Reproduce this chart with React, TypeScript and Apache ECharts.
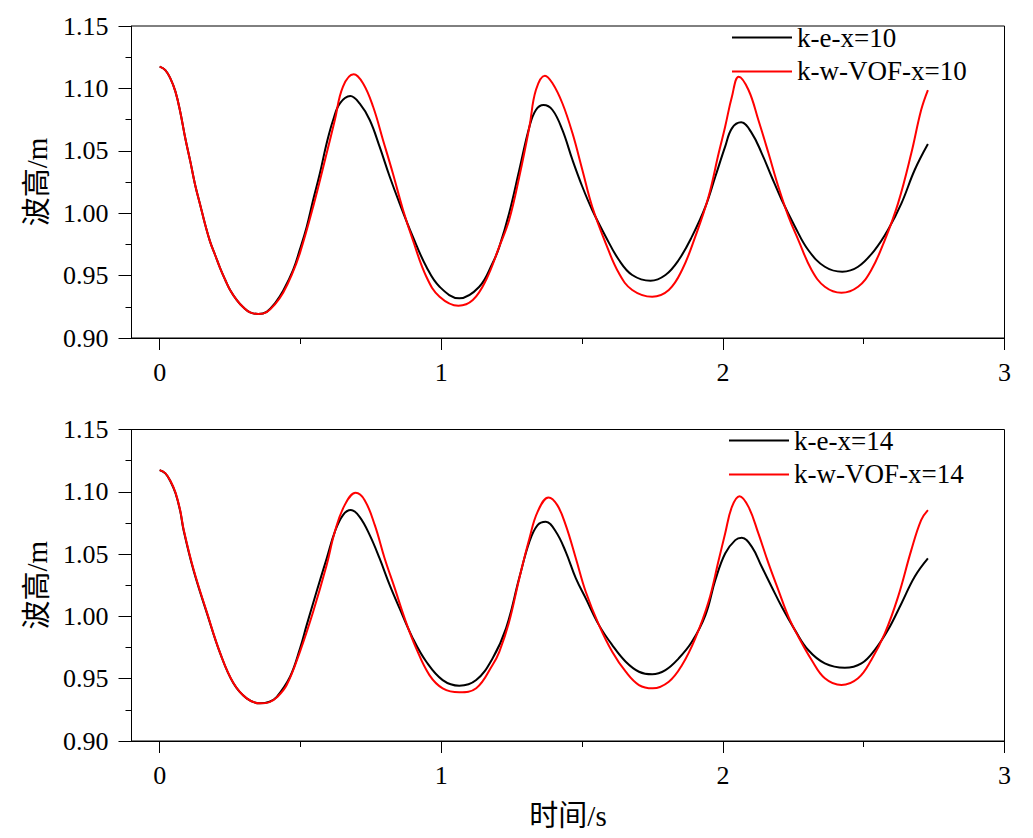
import React, { useEffect, useRef } from 'react';
import * as echarts from 'echarts';

const FONT = '"Liberation Serif", "Times New Roman", "Noto Sans CJK SC", serif';

const xMajorTicks = [0, 1, 2, 3];
const xMinorTicks = [0.5, 1.5, 2.5];
const topNames = ['k-e-x=10', 'k-w-VOF-x=10'];
const bottomNames = ['k-e-x=14', 'k-w-VOF-x=14'];
const yAxisName = '波高/m';
const xAxisName = '时间/s';

// top panel, x = 10
const topKE: number[][] = [
  [0, 1.1174], [0.02, 1.1147], [0.038, 1.108], [0.056, 1.0974], [0.073, 1.0813], [0.091, 1.06],
  [0.109, 1.0413], [0.126, 1.0226], [0.144, 1.0066], [0.162, 0.9905], [0.179, 0.9772], [0.197, 0.9665],
  [0.215, 0.9558], [0.233, 0.9465], [0.25, 0.9385], [0.274, 0.9304], [0.297, 0.9246], [0.321, 0.9206],
  [0.35, 0.9192], [0.38, 0.921], [0.41, 0.928], [0.439, 0.938], [0.474, 0.9545], [0.498, 0.971],
  [0.522, 0.989], [0.545, 1.0106], [0.569, 1.032], [0.593, 1.056], [0.616, 1.0747], [0.64, 1.088],
  [0.677, 1.0939], [0.71, 1.088], [0.746, 1.0747], [0.781, 1.0533], [0.817, 1.0292], [0.852, 1.0079],
  [0.899, 0.9812], [0.947, 0.9571], [0.994, 0.9411], [1.064, 0.9318], [1.135, 0.9411], [1.182, 0.9599],
  [1.206, 0.973], [1.241, 0.9999], [1.277, 1.0346], [1.313, 1.0693], [1.336, 1.0827], [1.363, 1.0867],
  [1.395, 1.0827], [1.43, 1.0667], [1.466, 1.0426], [1.501, 1.0212], [1.536, 1.0026], [1.584, 0.9812],
  [1.631, 0.9625], [1.678, 0.9505], [1.743, 0.9459], [1.796, 0.9505], [1.843, 0.9625], [1.89, 0.9812],
  [1.938, 1.0052], [1.973, 1.0292], [2.008, 1.0533], [2.032, 1.068], [2.065, 1.0728], [2.103, 1.064],
  [2.138, 1.048], [2.173, 1.0292], [2.209, 1.0106], [2.256, 0.9892], [2.303, 0.9705], [2.362, 0.9571],
  [2.424, 0.9531], [2.48, 0.9571], [2.539, 0.9705], [2.586, 0.9865], [2.634, 1.0079], [2.681, 1.0346],
  [2.728, 1.0554],
];
const topKW: number[][] = [
  [0, 1.1174], [0.02, 1.1147], [0.038, 1.108], [0.056, 1.0974], [0.073, 1.0813], [0.091, 1.06],
  [0.109, 1.0413], [0.126, 1.0226], [0.144, 1.0066], [0.162, 0.9905], [0.179, 0.9772], [0.197, 0.9665],
  [0.215, 0.9558], [0.233, 0.9465], [0.25, 0.9385], [0.274, 0.9304], [0.297, 0.9246], [0.321, 0.9206],
  [0.35, 0.9192], [0.38, 0.9208], [0.41, 0.9272], [0.439, 0.9365], [0.469, 0.9505], [0.498, 0.968],
  [0.545, 1.0052], [0.593, 1.048], [0.622, 1.0747], [0.651, 1.1014], [0.689, 1.1113], [0.722, 1.1041],
  [0.758, 1.0853], [0.793, 1.0587], [0.828, 1.032], [0.864, 1.0028], [0.899, 0.9785], [0.947, 0.9491],
  [0.994, 0.9331], [1.061, 0.9259], [1.112, 0.9304], [1.159, 0.9465], [1.206, 0.9732], [1.241, 0.9946],
  [1.277, 1.0292], [1.313, 1.0693], [1.336, 1.0987], [1.368, 1.1102], [1.395, 1.1041], [1.43, 1.0881],
  [1.466, 1.064], [1.501, 1.0346], [1.536, 1.0052], [1.584, 0.9759], [1.631, 0.9518], [1.678, 0.9385],
  [1.749, 0.9331], [1.808, 0.9385], [1.855, 0.9545], [1.902, 0.9812], [1.949, 1.0132], [1.985, 1.048],
  [2.008, 1.0693], [2.032, 1.0933], [2.056, 1.1094], [2.091, 1.0987], [2.126, 1.0747], [2.162, 1.048],
  [2.197, 1.0212], [2.233, 0.9972], [2.268, 0.9785], [2.315, 0.9545], [2.362, 0.9411], [2.421, 0.9363],
  [2.48, 0.9411], [2.527, 0.9545], [2.575, 0.9785], [2.622, 1.0079], [2.669, 1.048], [2.704, 1.0827],
  [2.728, 1.0987],
];

// bottom panel, x = 14
const botKE: number[][] = [
  [0, 1.1174], [0.02, 1.1148], [0.038, 1.1085], [0.056, 1.099], [0.073, 1.0845], [0.085, 1.0692],
  [0.12, 1.0372], [0.168, 1.0024], [0.215, 0.9703], [0.262, 0.9463], [0.309, 0.9342], [0.356, 0.9302],
  [0.39, 0.9315], [0.416, 0.9355], [0.463, 0.9516], [0.498, 0.974], [0.522, 0.993], [0.557, 1.0198],
  [0.593, 1.0465], [0.622, 1.0679], [0.651, 1.0813], [0.679, 1.0853], [0.71, 1.0799], [0.746, 1.0652],
  [0.781, 1.0465], [0.817, 1.0251], [0.852, 1.0064], [0.899, 0.9824], [0.947, 0.9636], [1.005, 0.9489],
  [1.064, 0.9444], [1.124, 0.9489], [1.182, 0.9663], [1.23, 0.9904], [1.277, 1.031], [1.313, 1.0599],
  [1.342, 1.0732], [1.371, 1.0759], [1.407, 1.0679], [1.442, 1.0518], [1.478, 1.0305], [1.513, 1.0145],
  [1.56, 0.993], [1.607, 0.977], [1.655, 0.9636], [1.702, 0.9556], [1.749, 0.9535], [1.796, 0.9569],
  [1.843, 0.9663], [1.89, 0.9796], [1.938, 1.0011], [1.973, 1.029], [2.008, 1.0505], [2.044, 1.0612],
  [2.067, 1.0631], [2.103, 1.0558], [2.138, 1.0398], [2.173, 1.0238], [2.209, 1.0077], [2.256, 0.989],
  [2.303, 0.973], [2.362, 0.9623], [2.433, 0.9588], [2.492, 0.9623], [2.539, 0.973], [2.586, 0.989],
  [2.634, 1.0104], [2.681, 1.0318], [2.728, 1.0465],
];
const botKW: number[][] = [
  [0, 1.1174], [0.02, 1.115], [0.038, 1.1088], [0.056, 1.0995], [0.073, 1.085], [0.085, 1.07],
  [0.12, 1.038], [0.168, 1.003], [0.215, 0.9705], [0.262, 0.9465], [0.309, 0.9342], [0.356, 0.9302],
  [0.39, 0.9312], [0.416, 0.935], [0.451, 0.9449], [0.498, 0.9716], [0.545, 1.0037], [0.593, 1.0412],
  [0.622, 1.0679], [0.657, 1.0893], [0.696, 1.0992], [0.728, 1.0933], [0.764, 1.0732], [0.799, 1.0465],
  [0.835, 1.0225], [0.87, 0.9984], [0.911, 0.9744], [0.958, 0.9529], [1.005, 0.9423], [1.064, 0.9391],
  [1.124, 0.9423], [1.182, 0.961], [1.206, 0.9716], [1.241, 0.9957], [1.277, 1.0305], [1.313, 1.0626],
  [1.342, 1.0839], [1.381, 1.0955], [1.412, 1.0893], [1.442, 1.0732], [1.478, 1.0465], [1.513, 1.0198],
  [1.56, 0.993], [1.607, 0.9716], [1.655, 0.9556], [1.702, 0.9449], [1.751, 0.9423], [1.808, 0.9476],
  [1.855, 0.961], [1.902, 0.9824], [1.949, 1.0117], [1.985, 1.045], [2.008, 1.0666], [2.032, 1.0879],
  [2.059, 1.0965], [2.091, 1.0879], [2.126, 1.0666], [2.162, 1.0425], [2.197, 1.0211], [2.233, 0.9997],
  [2.268, 0.9837], [2.315, 0.965], [2.362, 0.9503], [2.421, 0.9449], [2.48, 0.9503], [2.527, 0.965],
  [2.575, 0.9864], [2.622, 1.0157], [2.669, 1.0532], [2.704, 1.0773], [2.728, 1.0853],
];

const BLACK = '#000000';
const RED = '#ff0000';

function xAxes(gridIndex: number, withName: boolean) {
  const base = {
    gridIndex,
    type: 'value' as const,
    position: 'bottom' as const,
    min: -0.1,
    max: 3,
    splitLine: { show: false },
  };
  return [
    {
      ...base,
      name: withName ? xAxisName : '',
      nameLocation: 'middle',
      nameGap: 60,
      nameTextStyle: { fontSize: 29, fontFamily: FONT, color: BLACK },
      axisLine: { show: true, onZero: false, lineStyle: { color: BLACK, width: 1 } },
      axisTick: { show: true, customValues: xMajorTicks, length: 12, lineStyle: { color: BLACK, width: 1 } },
      axisLabel: {
        show: true,
        customValues: xMajorTicks,
        fontSize: 26,
        fontFamily: FONT,
        color: BLACK,
        margin: 21,
        formatter: (v: number) => String(v),
      },
    },
    {
      ...base,
      axisLine: { show: false, onZero: false },
      axisTick: { show: true, customValues: xMinorTicks, length: 6, lineStyle: { color: BLACK, width: 1 } },
      axisLabel: { show: false },
    },
  ];
}

function yAxis(gridIndex: number) {
  return {
    gridIndex,
    type: 'value' as const,
    min: 0.9,
    max: 1.15,
    interval: 0.05,
    name: yAxisName,
    nameLocation: 'middle',
    nameGap: 80,
    nameTextStyle: { fontSize: 29, fontFamily: FONT, color: BLACK },
    axisLine: { show: true, onZero: false, lineStyle: { color: BLACK, width: 1 } },
    axisTick: { show: true, length: 13, lineStyle: { color: BLACK, width: 1 } },
    minorTick: { show: true, splitNumber: 2, length: 6, lineStyle: { color: BLACK, width: 1 } },
    axisLabel: {
      fontSize: 26,
      fontFamily: FONT,
      color: BLACK,
      margin: 23,
      formatter: (v: number) => v.toFixed(2),
    },
    splitLine: { show: false },
    minorSplitLine: { show: false },
  };
}

function legend(names: string[], left: number, top: number) {
  return {
    data: names.map((name) => ({ name, icon: 'rect' })),
    orient: 'vertical',
    left,
    top,
    padding: 0,
    itemWidth: 60,
    itemHeight: 2,
    itemGap: 7,
    selectedMode: false,
    textStyle: { fontSize: 27, fontFamily: FONT, color: BLACK },
  };
}

function lineSeries(name: string, data: number[][], color: string, xi: number, yi: number) {
  return {
    name,
    type: 'line',
    data,
    xAxisIndex: xi,
    yAxisIndex: yi,
    symbol: 'none',
    smooth: 0.4,
    lineStyle: { color, width: 2 },
    itemStyle: { color },
    z: color === RED ? 3 : 2,
  };
}

export default function App() {
  const ref = useRef<HTMLDivElement>(null);
  useEffect(() => {
    if (!ref.current) return;
    const chart = echarts.init(ref.current, undefined, { renderer: 'svg' });
    chart.setOption({
      animation: false,
      backgroundColor: '#ffffff',
      grid: [
        { left: 131.5, top: 26, width: 873, height: 312, show: true, borderColor: BLACK, borderWidth: 1, backgroundColor: 'transparent' },
        { left: 131.5, top: 429.5, width: 873, height: 311.5, show: true, borderColor: BLACK, borderWidth: 1, backgroundColor: 'transparent' },
      ],
      xAxis: [...xAxes(0, false), ...xAxes(1, true)],
      yAxis: [yAxis(0), yAxis(1)],
      legend: [legend(topNames, 732, 24), legend(bottomNames, 729, 427)],
      series: [
        lineSeries(topNames[0], topKE, BLACK, 0, 0),
        lineSeries(topNames[1], topKW, RED, 0, 0),
        lineSeries(bottomNames[0], botKE, BLACK, 2, 1),
        lineSeries(bottomNames[1], botKW, RED, 2, 1),
      ],
    });
    return () => chart.dispose();
  }, []);
  return (
    <div
      ref={ref}
      style={{ position: 'absolute', left: 0, top: 0, width: 1033, height: 838, background: '#fff' }}
    />
  );
}
